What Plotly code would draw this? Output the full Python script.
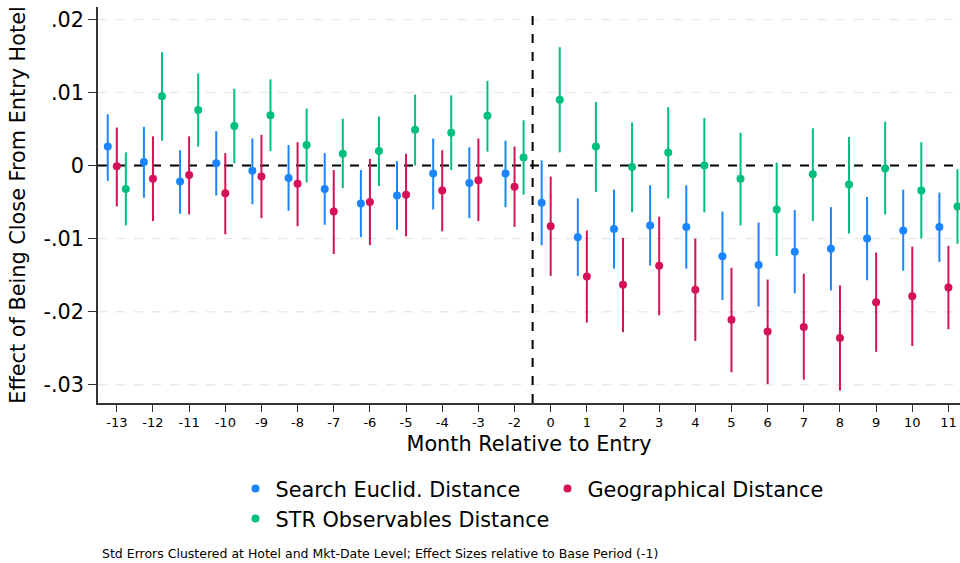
import plotly.graph_objects as go

months = ["-13", "-12", "-11", "-10", "-9", "-8", "-7", "-6", "-5", "-4", "-3", "-2",
          "0", "1", "2", "3", "4", "5", "6", "7", "8", "9", "10", "11"]

search_est = [0.0026, 0.0005, -0.0022, 0.0003, -0.0007, -0.0017, -0.0032, -0.0052, -0.0041, -0.0011, -0.0024, -0.0011,
              -0.0051, -0.0098, -0.0087, -0.0082, -0.0084, -0.0124, -0.0136, -0.0118, -0.0114, -0.0100, -0.0089, -0.0084]
search_hi = [0.0070, 0.0053, 0.0021, 0.0047, 0.0037, 0.0028, 0.0017, -0.0006, 0.0006, 0.0037, 0.0025, 0.0034,
             0.0007, -0.0045, -0.0033, -0.0027, -0.0027, -0.0063, -0.0078, -0.0061, -0.0057, -0.0043, -0.0033, -0.0037]
search_lo = [-0.0021, -0.0044, -0.0066, -0.0041, -0.0053, -0.0062, -0.0081, -0.0098, -0.0088, -0.0060, -0.0072, -0.0057,
             -0.0109, -0.0151, -0.0141, -0.0137, -0.0141, -0.0184, -0.0193, -0.0175, -0.0171, -0.0157, -0.0144, -0.0132]

geo_est = [-0.0001, -0.0018, -0.0013, -0.0038, -0.0015, -0.0025, -0.0063, -0.0050, -0.0040, -0.0034, -0.0020, -0.0029,
           -0.0083, -0.0152, -0.0163, -0.0137, -0.0170, -0.0211, -0.0227, -0.0221, -0.0236, -0.0187, -0.0179, -0.0167]
geo_hi = [0.0052, 0.0040, 0.0040, 0.0017, 0.0042, 0.0032, -0.0006, 0.0009, 0.0016, 0.0021, 0.0037, 0.0026,
          -0.0015, -0.0089, -0.0099, -0.0070, -0.0100, -0.0140, -0.0156, -0.0148, -0.0164, -0.0119, -0.0111, -0.0110]
geo_lo = [-0.0056, -0.0076, -0.0067, -0.0094, -0.0072, -0.0083, -0.0121, -0.0109, -0.0097, -0.0090, -0.0076, -0.0084,
          -0.0151, -0.0215, -0.0228, -0.0205, -0.0240, -0.0283, -0.0299, -0.0293, -0.0308, -0.0255, -0.0247, -0.0224]

str_est = [-0.0032, 0.0095, 0.0076, 0.0054, 0.0069, 0.0028, 0.0016, 0.0020, 0.0049, 0.0045, 0.0068, 0.0011,
           0.0090, 0.0026, -0.0002, 0.0018, 0.0000, -0.0018, -0.0060, -0.0012, -0.0026, -0.0004, -0.0034, -0.0056]
str_hi = [0.0018, 0.0155, 0.0126, 0.0105, 0.0118, 0.0078, 0.0064, 0.0067, 0.0097, 0.0096, 0.0116, 0.0062,
          0.0162, 0.0087, 0.0059, 0.0080, 0.0065, 0.0045, 0.0004, 0.0051, 0.0039, 0.0060, 0.0032, -0.0005]
str_lo = [-0.0082, 0.0034, 0.0026, 0.0003, 0.0020, -0.0023, -0.0031, -0.0028, 0.0000, -0.0006, 0.0019, -0.0040,
          0.0018, -0.0036, -0.0064, -0.0045, -0.0064, -0.0082, -0.0124, -0.0076, -0.0093, -0.0067, -0.0100, -0.0107]

y_tickvals = [0.02, 0.01, 0, -0.01, -0.02, -0.03]
y_ticktext = [".02", ".01", "0", "-.01", "-.02", "-.03"]

series = [
    ("Search Euclid. Distance", search_est, search_hi, search_lo, "#1a85ff"),
    ("Geographical Distance", geo_est, geo_hi, geo_lo, "#d41159"),
    ("STR Observables Distance", str_est, str_hi, str_lo, "#00bf7f"),
]

fig = go.Figure()
for i, (name, est, hi, lo, col) in enumerate(series):
    fig.add_trace(go.Scatter(
        x=months, y=est, name=name, mode="markers",
        offsetgroup=str(i),
        marker=dict(color=col, size=8),
        error_y=dict(type="data", symmetric=False,
                     array=[h - e for h, e in zip(hi, est)],
                     arrayminus=[e - l for e, l in zip(est, lo)],
                     color=col, thickness=2, width=0),
    ))

# light dashed gridlines (drawn as shapes so the zero line stays on top of them)
for v in y_tickvals:
    if v != 0:
        fig.add_shape(type="line", xref="paper", yref="y", x0=0, x1=1, y0=v, y1=v,
                      line=dict(color="#e9e9e9", width=1.5, dash="dash"), layer="below")
fig.add_shape(type="line", xref="paper", yref="y", x0=0, x1=1, y0=0, y1=0,
              line=dict(color="black", width=2, dash="dash"), layer="below")
fig.add_shape(type="line", xref="x", yref="paper", x0=11.5, x1=11.5, y0=0, y1=1,
              line=dict(color="black", width=2, dash="dash"), layer="below")

fig.update_layout(
    width=960, height=563,
    margin=dict(l=98, r=0, t=7, b=160, autoexpand=False),
    paper_bgcolor="white", plot_bgcolor="white",
    font=dict(family="DejaVu Sans", color="black"),
    scattermode="group", scattergap=0.25,
    showlegend=True,
    legend=dict(orientation="h", xref="container", yref="container",
                x=0.2453, y=0.168, xanchor="left", yanchor="top",
                font=dict(size=20.8), entrywidth=267, entrywidthmode="pixels",
                itemwidth=30, tracegroupgap=0),
    xaxis=dict(type="category", range=[-0.52, 23.32], automargin=False,
               showline=True, linecolor="#333", linewidth=1.5,
               ticks="outside", ticklen=7, tickcolor="#333",
               tickfont=dict(size=13), showgrid=False,
               title=dict(text="Month Relative to Entry", font=dict(size=20.8), standoff=7)),
    yaxis=dict(range=[-0.0325, 0.0217], tickvals=y_tickvals, ticktext=y_ticktext, automargin=False,
               showline=True, linecolor="#333", linewidth=1.5,
               ticks="outside", ticklen=8, tickcolor="#333",
               tickfont=dict(size=20.8), zeroline=False, showgrid=False,
               title=dict(text="Effect of Being Close From Entry Hotel", font=dict(size=20.8), standoff=12)),
)

fig.add_annotation(text="Std Errors Clustered at Hotel and Mkt-Date Level; Effect Sizes relative to Base Period (-1)",
                   xref="paper", yref="paper", x=0.0023, y=-0.381, xanchor="left", yanchor="middle",
                   showarrow=False, font=dict(size=12.5, color="black"))

fig.write_html("out.html", config={"displayModeBar": False},
               post_script="document.body.style.margin='0';")
